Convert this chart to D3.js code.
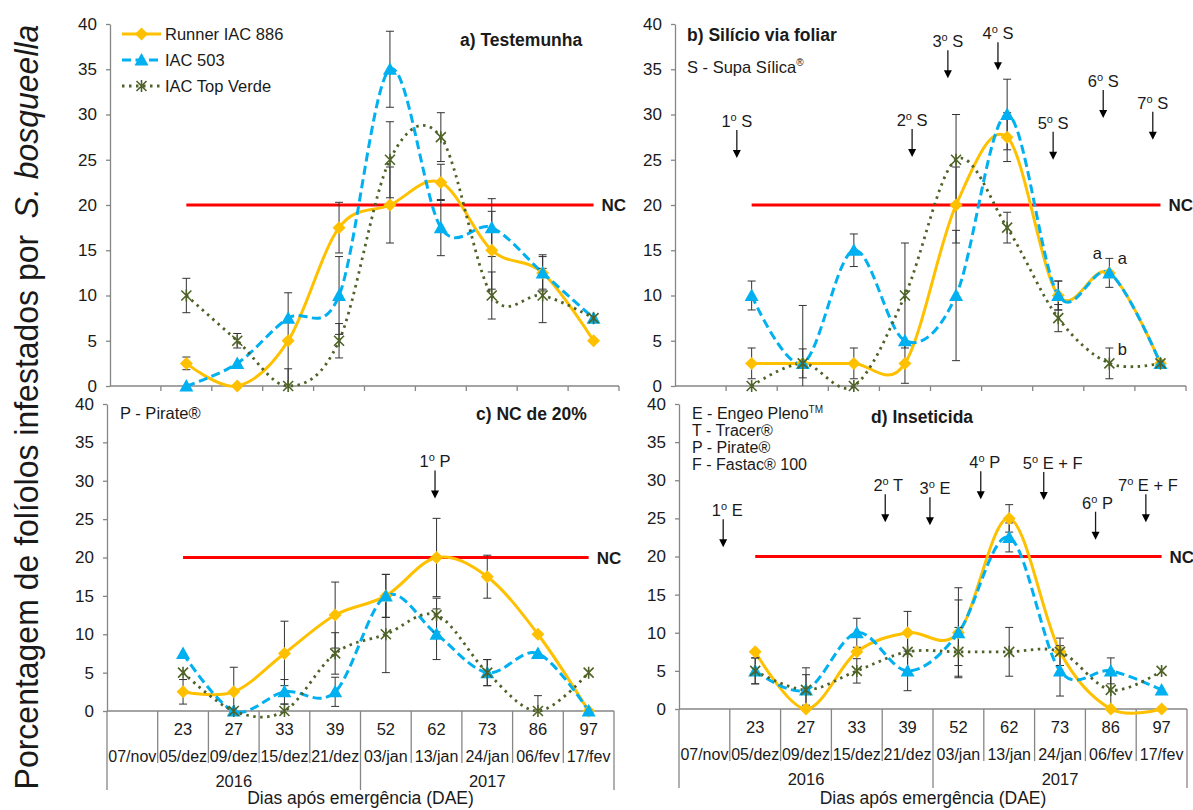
<!DOCTYPE html>
<html>
<head>
<meta charset="utf-8">
<script src="https://cdn.jsdelivr.net/npm/d3@7"></script>
<style>
  body { margin: 0; background: #fff; }
  svg { font-family: "Liberation Sans", Arial, sans-serif; }
  text { fill: #1a1a1a; }
</style>
</head>
<body>
<svg id="chart" width="1193" height="810"></svg>
<script>
// Category axis
const dae = ["", "23", "27", "33", "39", "52", "62", "73", "86", "97"];
const dates = ["07/nov", "05/dez", "09/dez", "15/dez", "21/dez", "03/jan", "13/jan", "24/jan", "06/fev", "17/fev"];
const years = ["2016", "2017"];
const yTicks = [0, 5, 10, 15, 20, 25, 30, 35, 40];
const seriesNames = ["Runner IAC 886", "IAC 503", "IAC Top Verde"];
const nc = 20;

// a) Testemunha  (values for DAE 23..97)
const runnerA = [2.5, 0, 5, 17.5, 20, 22.5, 15, 12.5, 5];
const runnerAErr = [0.7, 0, 5.3, 2.8, 4.2, 2, 4.3, 1.8, 0];
const iac503A = [0, 2.5, 7.5, 10, 35, 17.5, 17.5, 12.5, 7.5];
const iac503AErr = [0, 0, 0, 4.3, 4.2, 3.1, 3.2, 2, 0];
const topVerdeA = [10, 5, 0, 5, 25, 27.5, 10, 10, 7.5];
const topVerdeAErr = [1.9, 0.8, 1.9, 1.9, 4.2, 2.7, 2.6, 3, 0];

// b) Silício via foliar
const runnerB = [2.5, 2.5, 2.5, 2.5, 20, 27.5, 10, 12.5, 2.5];
const runnerBErr = [1.7, 1.6, 1.7, 2.2, 4.2, 2.7, 1.6, 0, 0];
const iac503B = [10, 2.5, 15, 5, 10, 30, 10, 12.5, 2.5];
const iac503BErr = [1.6, 6.4, 1.8, 0, 7.2, 3.9, 1.6, 1.6, 0];
const topVerdeB = [0, 2.5, 0, 10, 25, 17.5, 7.5, 2.5, 2.5];
const topVerdeBErr = [0, 0, 0, 5.8, 5, 1.7, 1.5, 1.7, 0];

// c) NC de 20%
const runnerC = [2.5, 2.5, 7.5, 12.5, 15, 20, 17.5, 10, 0];
const runnerCErr = [1.6, 3.2, 4.2, 4.3, 2.8, 5.1, 2.8, 0, 0];
const iac503C = [7.5, 0, 2.5, 2.5, 15, 10, 5, 7.5, 0];
const iac503CErr = [0, 0, 1.6, 1.9, 2.8, 3.3, 1.7, 0, 0];
const topVerdeC = [5, 0, 0, 7.5, 10, 12.5, 5, 0, 5];
const topVerdeCErr = [0, 0, 0.9, 2.7, 5, 2.2, 1.7, 2, 0];

// d) Inseticida
const runnerD = [7.5, 0, 7.5, 10, 10, 25, 7.5, 0, 0];
const runnerDErr = [0, 0, 0, 2.8, 4.3, 1.8, 0, 0, 0];
const iac503D = [5, 2.5, 10, 5, 10, 22.5, 5, 5, 2.5];
const iac503DErr = [1.7, 2.9, 1.9, 2.6, 5.9, 1.9, 3.3, 1.7, 0];
const topVerdeD = [5, 2.5, 5, 7.5, 7.5, 7.5, 7.5, 2.5, 5];
const topVerdeDErr = [1.7, 2, 1.6, 2.6, 3.2, 3.2, 1.8, 2.5, 0];

// application arrows: position on category axis, tip level
const arrowsB = [
  { label: "1º S", at: 1.21, tip: 25.2 }, { label: "2º S", at: 4.64, tip: 25.3 },
  { label: "3º S", at: 5.34, tip: 34 }, { label: "4º S", at: 6.32, tip: 34.9 },
  { label: "5º S", at: 7.40, tip: 25 }, { label: "6º S", at: 8.38, tip: 29.6 },
  { label: "7º S", at: 9.35, tip: 27.2 }
];
const arrowsC = [{ label: "1º P", at: 6.47, tip: 27.7 }];
const arrowsD = [
  { label: "1º E", at: 0.87, tip: 21.2, dx: 4 }, { label: "2º T", at: 4.06, tip: 24.5, dx: 3 },
  { label: "3º E", at: 4.94, tip: 24.1, dx: 5 }, { label: "4º P", at: 5.94, tip: 27.5, dx: 4 },
  { label: "5º E + F", at: 7.18, tip: 27.4, dx: 9 }, { label: "6º P", at: 8.20, tip: 22.2, dx: 2 },
  { label: "7º E + F", at: 9.19, tip: 24.5, dx: 2 }
];

const colors = ["#FFC000", "#00B0F0", "#4F6228"];
const axisColor = "#868686";

const svg = d3.select("#chart");

const panels = [
  { title: "a) Testemunha", tx: 460, ty: 46, box: [110, 619, 24, 386], labels: false,
    series: [runnerA, iac503A, topVerdeA], errs: [runnerAErr, iac503AErr, topVerdeAErr], arrows: [], legend: true },
  { title: "b) Silício via foliar", tx: 687, ty: 41, box: [675, 1186, 24, 386], labels: false,
    series: [runnerB, iac503B, topVerdeB], errs: [runnerBErr, iac503BErr, topVerdeBErr], arrows: arrowsB },
  { title: "c) NC de 20%", tx: 476, ty: 420, box: [107, 614, 404, 711], labels: true,
    series: [runnerC, iac503C, topVerdeC], errs: [runnerCErr, iac503CErr, topVerdeCErr], arrows: arrowsC },
  { title: "d) Inseticida", tx: 871, ty: 423, box: [679, 1187, 404, 709], labels: true,
    series: [runnerD, iac503D, topVerdeD], errs: [runnerDErr, iac503DErr, topVerdeDErr], arrows: arrowsD }
];

function marker(sel, k) {
  if (k === 0) {
    sel.append("path").attr("d", "M0,-6.5L6.5,0L0,6.5L-6.5,0Z").attr("fill", colors[0]);
  } else if (k === 1) {
    sel.append("path").attr("d", "M0,-7L7,5.5L-7,5.5Z").attr("fill", colors[1]);
  } else {
    sel.append("path").attr("d", "M-5,-5L5,5M-5,5L5,-5M0,-6L0,6")
      .attr("stroke", colors[2]).attr("stroke-width", 1.6).attr("fill", "none");
  }
}

function styleLine(p, k) {
  p.attr("fill", "none").attr("stroke", colors[k]);
  if (k === 0) p.attr("stroke-width", 3);
  if (k === 1) p.attr("stroke-width", 3).attr("stroke-dasharray", "9,4.5");
  if (k === 2) p.attr("stroke-width", 2.8).attr("stroke-dasharray", "2.5,4.5");
}

panels.forEach(pn => {
  const [x0, x1, top, bottom] = pn.box;
  const x = d3.scaleLinear().domain([0, dates.length]).range([x0, x1]);
  const y = d3.scaleLinear().domain([0, 40]).range([bottom, top]);
  const g = svg.append("g");

  // y axis
  const ya = g.append("g").attr("transform", `translate(${x0},0)`)
    .call(d3.axisLeft(y).tickValues(yTicks).tickSize(4).tickSizeOuter(0).tickPadding(9));
  ya.select(".domain").attr("stroke", axisColor).attr("stroke-width", 1.3);
  ya.selectAll(".tick line").attr("stroke", axisColor).attr("stroke-width", 1.3);
  ya.selectAll(".tick text").attr("font-size", 17).attr("fill", "#1a1a1a")
    .attr("font-family", "Liberation Sans, Arial, sans-serif");

  // x axis
  g.append("line").attr("x1", x0).attr("x2", x1).attr("y1", bottom).attr("y2", bottom)
    .attr("stroke", axisColor).attr("stroke-width", 1.3);
  d3.range(dates.length + 1).forEach(i => {
    let len = 5;
    if (pn.labels) len = (i % 5 === 0) ? 79 : 52;
    if (i === 0 && !pn.labels) return;
    g.append("line").attr("x1", x(i)).attr("x2", x(i)).attr("y1", bottom).attr("y2", bottom + len)
      .attr("stroke", axisColor).attr("stroke-width", 1.3);
  });
  if (pn.labels) {
    dae.forEach((d, i) => g.append("text").attr("x", x(i + 0.5)).attr("y", bottom + 24)
      .attr("text-anchor", "middle").attr("font-size", 16.5).text(d));
    dates.forEach((d, i) => g.append("text").attr("x", x(i + 0.5)).attr("y", bottom + 51)
      .attr("text-anchor", "middle").attr("font-size", 16).text(d));
    years.forEach((d, i) => g.append("text").attr("x", x(i * 5 + 2.5)).attr("y", bottom + 76)
      .attr("text-anchor", "middle").attr("font-size", 16.5).text(d));
    g.append("text").attr("x", (x0 + x1) / 2).attr("y", 804)
      .attr("text-anchor", "middle").attr("font-size", 17.5).text("Dias após emergência (DAE)");
  }

  // NC line
  g.append("line").attr("x1", x(1.5)).attr("x2", x(9.5)).attr("y1", y(nc)).attr("y2", y(nc))
    .attr("stroke", "#FF0000").attr("stroke-width", 3);
  g.append("text").attr("x", x(9.5) + 8).attr("y", y(nc) + 6).attr("font-size", 17)
    .attr("font-weight", "bold").text("NC");

  // series
  const line = d3.line().x((d, i) => x(i + 1.5)).y(d => y(d)).curve(d3.curveCardinal.tension(0));
  pn.series.forEach((vals, k) => {
    styleLine(g.append("path").attr("d", line(vals)), k);
  });
  pn.series.forEach((vals, k) => {
    const err = pn.errs[k];
    vals.forEach((v, i) => {
      if (!err[i]) return;
      const cx = x(i + 1.5);
      const lo = y(Math.max(0, v - err[i])), hi = y(v + err[i]);
      g.append("path")
        .attr("d", `M${cx},${lo}L${cx},${hi}M${cx - 4},${hi}L${cx + 4},${hi}` +
          (v - err[i] >= 0 ? `M${cx - 4},${lo}L${cx + 4},${lo}` : ""))
        .attr("stroke", "#333").attr("stroke-width", 1).attr("fill", "none");
    });
  });
  pn.series.forEach((vals, k) => {
    vals.forEach((v, i) => {
      marker(g.append("g").attr("transform", `translate(${x(i + 1.5)},${y(v)})`), k);
    });
  });

  // title
  g.append("text").attr("x", pn.tx).attr("y", pn.ty).attr("font-size", 17.5)
    .attr("font-weight", "bold").text(pn.title);

  // arrows
  pn.arrows.forEach(a => {
    const ax = x(a.at), tipY = y(a.tip);
    g.append("line").attr("x1", ax).attr("x2", ax).attr("y1", tipY - 28).attr("y2", tipY - 6)
      .attr("stroke", "#1a1a1a").attr("stroke-width", 1.3);
    g.append("path").attr("d", `M${ax - 4},${tipY - 8}L${ax + 4},${tipY - 8}L${ax},${tipY}Z`)
      .attr("fill", "#000");
    const t = g.append("text").attr("x", ax + (a.dx || 0)).attr("y", tipY - 31)
      .attr("text-anchor", "middle").attr("font-size", 16.5);
    const parts = a.label.split("º");
    t.append("tspan").text(parts[0]);
    t.append("tspan").attr("font-size", 11).attr("dy", -6).text("o");
    t.append("tspan").attr("dy", 6).text(parts[1]);
  });

  // legend
  if (pn.legend) {
    seriesNames.forEach((name, k) => {
      const ly = 34 + k * 26;
      styleLine(g.append("path").attr("d", `M122,${ly}L161,${ly}`), k);
      marker(g.append("g").attr("transform", `translate(141.5,${ly})`), k);
      g.append("text").attr("x", 165).attr("y", ly + 6).attr("font-size", 16.5).text(name);
    });
  }
});

// panel notes
const noteB = svg.append("text").attr("x", 687).attr("y", 73).attr("font-size", 16.5);
noteB.append("tspan").text("S - Supa Sílica");
noteB.append("tspan").attr("font-size", 10).attr("dy", -7).text("®");

svg.append("text").attr("x", 120).attr("y", 419).attr("font-size", 16.5).text("P - Pirate®");

const notesD = ["E - Engeo Pleno", "T - Tracer®", "P - Pirate®", "F - Fastac® 100"];
notesD.forEach((n, i) => {
  const t = svg.append("text").attr("x", 692).attr("y", 419 + i * 17).attr("font-size", 16);
  t.append("tspan").text(n);
  if (i === 0) t.append("tspan").attr("font-size", 10).attr("dy", -6).text("TM");
});

// annotation letters (b)
const xb = d3.scaleLinear().domain([0, dates.length]).range([675, 1186]);
const yb = d3.scaleLinear().domain([0, 40]).range([386, 24]);
[["a", -12, 14], ["a", 13, 13.5], ["b", 13, 3.4]].forEach(([l, dx, v]) => {
  svg.append("text").attr("x", xb(8.5) + dx).attr("y", yb(v)).attr("text-anchor", "middle")
    .attr("font-size", 16.5).text(l);
});

// y title
const yt = svg.append("text").attr("font-size", 34).attr("text-anchor", "middle")
  .attr("transform", "translate(38,407) rotate(-90)");
yt.append("tspan").text("Porcentagem de folíolos infestados por ");
yt.append("tspan").attr("dx", 8).attr("font-style", "italic").text("S. bosqueella");
const len = yt.node().getComputedTextLength() + 8;
yt.attr("transform", `translate(38,407) rotate(-90) scale(${765 / len},1)`);
</script>
</body>
</html>
